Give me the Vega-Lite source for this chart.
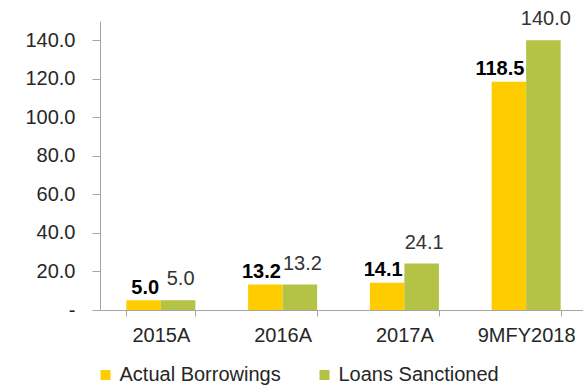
{
  "$schema": "https://vega.github.io/schema/vega-lite/v6.json",
  "width": 487,
  "height": 289,
  "autosize": {"type": "none"},
  "padding": {"left": 100, "top": 21, "right": 0, "bottom": 76},
  "background": "white",
  "config": {"view": {"stroke": null}, "font": "Liberation Sans"},
  "data": {
    "values": [
      {"period": "2015A", "series": "Actual Borrowings", "value": 5.0},
      {"period": "2015A", "series": "Loans Sanctioned", "value": 5.0},
      {"period": "2016A", "series": "Actual Borrowings", "value": 13.2},
      {"period": "2016A", "series": "Loans Sanctioned", "value": 13.2},
      {"period": "2017A", "series": "Actual Borrowings", "value": 14.1},
      {"period": "2017A", "series": "Loans Sanctioned", "value": 24.1},
      {"period": "9MFY2018", "series": "Actual Borrowings", "value": 118.5},
      {"period": "9MFY2018", "series": "Loans Sanctioned", "value": 140.0}
    ]
  },
  "encoding": {
    "x": {
      "field": "period",
      "type": "nominal",
      "sort": null,
      "scale": {"paddingInner": 0.433, "paddingOuter": 0.2165},
      "axis": {
        "title": null,
        "labelAngle": 0,
        "tickBand": "extent",
        "tickSize": 6,
        "labelPadding": 9,
        "labelFontSize": 20,
        "labelColor": "#262626",
        "domainColor": "#A6A6A6",
        "tickColor": "#A6A6A6",
        "grid": false
      }
    },
    "xOffset": {"field": "series", "sort": null},
    "y": {
      "field": "value",
      "type": "quantitative",
      "scale": {"domain": [0, 150]},
      "axis": {
        "title": null,
        "values": [0, 20, 40, 60, 80, 100, 120, 140],
        "labelExpr": "datum.value == 0 ? '-\u00a0\u00a0' : format(datum.value, '.1f')",
        "tickSize": 8,
        "labelPadding": 17,
        "labelFontSize": 20,
        "labelColor": "#262626",
        "domainColor": "#A6A6A6",
        "tickColor": "#A6A6A6",
        "grid": false
      }
    }
  },
  "layer": [
    {
      "mark": {"type": "bar"},
      "encoding": {
        "color": {
          "field": "series",
          "type": "nominal",
          "sort": null,
          "scale": {"domain": ["Actual Borrowings", "Loans Sanctioned"], "range": ["#FFCC00", "#B4C246"]},
          "legend": {
            "title": null,
            "orient": "none",
            "legendX": -4.5,
            "legendY": 344,
            "padding": 0,
            "direction": "horizontal",
            "symbolType": "square",
            "symbolSize": 100,
            "symbolStrokeWidth": 0,
            "labelFontSize": 20,
            "labelColor": "#262626",
            "labelOffset": 4,
            "columnPadding": 33,
            "labelLimit": 300
          }
        }
      }
    },
    {
      "transform": [{"filter": "datum.series == 'Actual Borrowings'"}],
      "mark": {"type": "text", "fontWeight": "bold", "fontSize": 20, "dy": -6.5, "dx": 15.5, "align": "right", "baseline": "alphabetic", "color": "#000000"},
      "encoding": {"text": {"field": "value", "type": "quantitative", "format": ".1f"}}
    },
    {
      "transform": [{"filter": "datum.series == 'Loans Sanctioned'"}],
      "mark": {"type": "text", "fontSize": 20, "dy": -15, "dx": 2.5, "baseline": "alphabetic", "color": "#333333"},
      "encoding": {"text": {"field": "value", "type": "quantitative", "format": ".1f"}}
    }
  ]
}
